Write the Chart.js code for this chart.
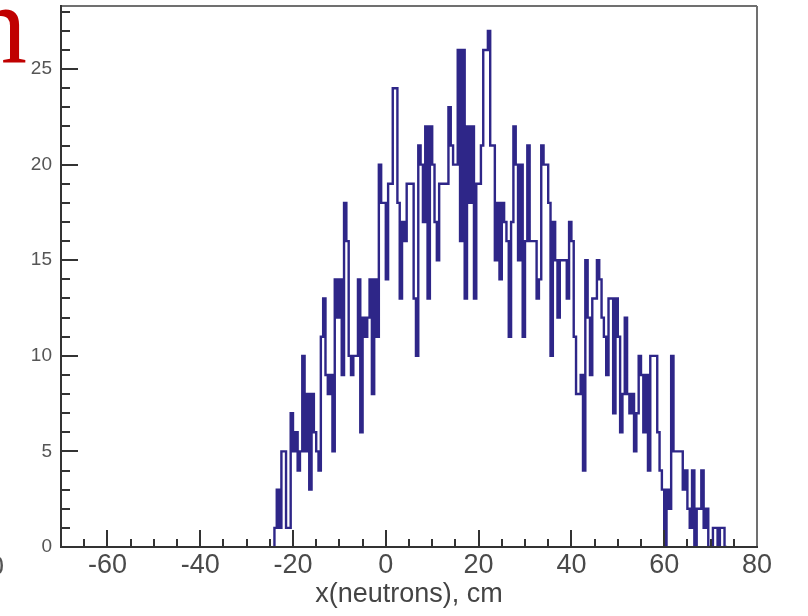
<!DOCTYPE html>
<html>
<head>
<meta charset="utf-8">
<script src="https://cdn.jsdelivr.net/npm/chart.js@4/dist/chart.umd.min.js"></script>
<style>
  html, body { margin: 0; padding: 0; background: #fff; }
  #wrap { position: relative; width: 808px; height: 616px; }
</style>
</head>
<body>
<div id="wrap"><canvas id="myChart" width="808" height="616"></canvas></div>
<script>
// histogram: 0.5 cm bins starting at -24 cm
const binStart = -24;
const binWidth = 0.5;
const counts = [
  1, 3,   1, 5,   5, 1,   1, 7,   5, 6,   4, 5,   10, 5,  8, 3,   8, 6,   5, 4,
  11, 13, 9, 8,   9, 5,   14, 12, 14, 9,  18, 16, 10, 9,  10, 10, 14, 6,  12, 11,
  12, 14, 8, 14,  11, 20, 18, 18, 14, 19, 19, 24, 24, 18, 13, 17, 16, 19, 19, 19,
  13, 10, 21, 20, 17, 22, 13, 22, 20, 17, 15, 19, 19, 19, 19, 23, 21, 20, 20, 26,
  16, 26, 13, 22, 18, 22, 13, 19, 19, 21, 26, 26, 27, 21, 21, 15, 18, 14, 18, 17,
  16, 11, 17, 22, 20, 15, 20, 11, 16, 21, 16, 16, 16, 13, 14, 21, 20, 20, 18, 10,
  17, 15, 12, 15, 15, 15, 13, 17, 16, 11, 8, 8,   9, 4,   15, 12, 9, 13,  13, 15,
  14, 12, 11, 9,  13, 13, 7, 13,  11, 6,  8, 12,  8, 7,   8, 5,   7, 10,  9, 6,
  9, 4,   10, 10, 10, 6,  4, 3,   0, 3,   2, 10,  5, 5,   5, 5,   3, 4,   2, 1,
  4, 0,   2, 2,   4, 1,   2, 0,   0, 1,   1, 0,   1, 1,   0
];
const xTicks = [-60, -40, -20, 0, 20, 40, 60, 80];
const yTicks = [0, 5, 10, 15, 20, 25];
const xTitle = 'x(neutrons), cm';

const fontFamily = '"Liberation Sans", Arial, sans-serif';

const points = [{ x: binStart, y: 0 }];
counts.forEach((c, i) => points.push({ x: binStart + i * binWidth, y: c }));
points.push({ x: binStart + counts.length * binWidth, y: 0 });

const rootFrame = {
  id: 'rootFrame',
  afterDatasetsDraw(chart) {
    const { ctx, chartArea: a, scales } = chart;
    const xs = scales.x, ys = scales.y;
    const seg = (x1, y1, x2, y2) => {
      ctx.beginPath(); ctx.moveTo(x1, y1); ctx.lineTo(x2, y2); ctx.stroke();
    };
    ctx.save();
    ctx.lineWidth = 2;
    ctx.strokeStyle = '#707070';
    seg(a.left, a.top, a.right, a.top);
    seg(a.right, a.top, a.right, a.bottom);
    ctx.strokeStyle = '#333';
    seg(a.left, a.top - 1, a.left, a.bottom + 1);
    seg(a.left - 1, a.bottom, a.right + 1, a.bottom);
    for (let v = xs.min + 5; v < xs.max; v += 5) {
      const px = Math.round(xs.getPixelForValue(v));
      const len = xTicks.includes(v) ? 17 : 8;
      seg(px, a.bottom, px, a.bottom - len);
    }
    for (let v = 1; v < ys.max; v += 1) {
      const py = Math.round(ys.getPixelForValue(v));
      const len = yTicks.includes(v) ? 17 : 9;
      seg(a.left, py, a.left + len, py);
    }
    ctx.restore();
  },
  afterDraw(chart) {
    const ctx = chart.ctx;
    ctx.save();
    ctx.fillStyle = '#c00000';
    ctx.font = '112px "Liberation Serif", serif';
    ctx.textAlign = 'right';
    ctx.textBaseline = 'alphabetic';
    ctx.fillText('n', 27, 63);
    ctx.fillStyle = '#555';
    ctx.font = '27px ' + fontFamily;
    ctx.fillText('0', 4, 575);
    ctx.restore();
  }
};

const ctx = document.getElementById('myChart');
const chart = new Chart(ctx, {
  type: 'line',
  data: {
    datasets: [{
      data: points,
      stepped: 'before',
      borderColor: 'rgb(46, 38, 136)',
      borderWidth: 2.4,
      pointRadius: 0,
      fill: false
    }]
  },
  options: {
    responsive: false,
    animation: false,
    layout: { padding: { left: 0, right: 51, top: 6, bottom: 0 } },
    plugins: { legend: { display: false }, tooltip: { enabled: false } },
    scales: {
      x: {
        type: 'linear',
        min: -70,
        max: 80,
        grid: { display: false, drawTicks: false },
        border: { display: false },
        ticks: { font: { family: fontFamily, size: 27 }, color: '#4a4a4a', padding: 2, maxRotation: 0, autoSkip: false },
        afterBuildTicks: s => { s.ticks = xTicks.map(v => ({ value: v })); },
        afterFit: s => { s.height = 69; s.paddingLeft = 0; s.paddingRight = 0; },
        title: { display: true, text: xTitle, color: '#444', font: { family: fontFamily, size: 27 }, padding: { top: 0, bottom: 5 } }
      },
      y: {
        type: 'linear',
        min: 0,
        max: 28.3,
        grid: { display: false, drawTicks: false },
        border: { display: false },
        ticks: { font: { family: fontFamily, size: 19 }, color: '#555', padding: 9 },
        afterBuildTicks: s => { s.ticks = yTicks.map(v => ({ value: v })); },
        afterFit: s => { s.width = 61; s.paddingTop = 0; s.paddingBottom = 0; }
      }
    }
  },
  plugins: [rootFrame]
});
</script>
</body>
</html>
